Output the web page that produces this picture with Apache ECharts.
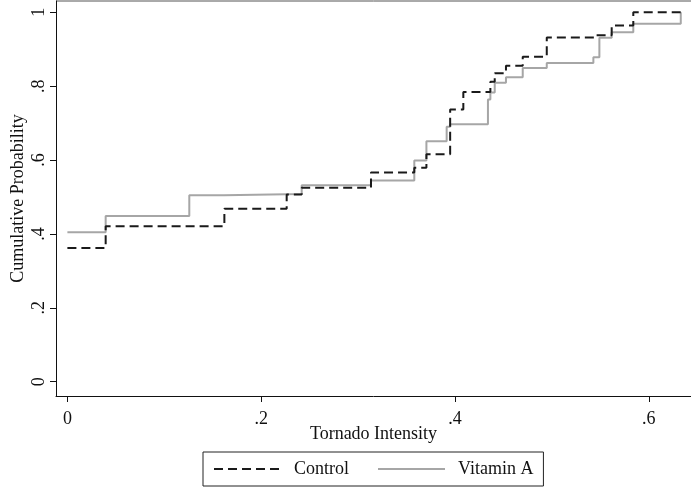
<!DOCTYPE html>
<html>
<head>
<meta charset="utf-8">
<script src="https://cdn.jsdelivr.net/npm/echarts@6/dist/echarts.min.js"></script>
<style>
html,body{margin:0;padding:0;background:#fff;}
#chart{width:691px;height:487px;}
</style>
</head>
<body>
<div id="chart"></div>
<script>
// Empirical CDF step points: [x where step occurs, cumulative probability after step]
const controlX = [0, 0.0395, 0.162, 0.2263, 0.2418, 0.3133, 0.358, 0.3705, 0.395, 0.4086, 0.4365, 0.441, 0.4526, 0.4699, 0.4947, 0.546, 0.5617, 0.584, 0.633];
const controlY = [0.362, 0.421, 0.468, 0.507, 0.525, 0.566, 0.579, 0.616, 0.737, 0.784, 0.812, 0.835, 0.855, 0.880, 0.932, 0.938, 0.964, 1.0, 1.0];
const vitaminX = [0, 0.0395, 0.1258, 0.1616, 0.2418, 0.3133, 0.358, 0.3705, 0.3914, 0.395, 0.434, 0.4365, 0.441, 0.4526, 0.4699, 0.4947, 0.5428, 0.549, 0.5617, 0.584, 0.633];
const vitaminY = [0.4045, 0.4486, 0.505, 0.508, 0.532, 0.545, 0.599, 0.651, 0.690, 0.697, 0.764, 0.783, 0.809, 0.824, 0.849, 0.863, 0.878, 0.931, 0.946, 0.969, 1.0];
const xTicks = [0, 0.2, 0.4, 0.6];
const yTicks = [0, 0.2, 0.4, 0.6, 0.8, 1];
const seriesNames = ['Control', 'Vitamin A'];
const xTitle = 'Tornado Intensity';
const yTitle = 'Cumulative Probability';

const fmt = v => (Math.abs(v) < 1e-9 ? '0' : (Math.abs(v - 1) < 1e-9 ? '1' : String(+v.toFixed(2)).replace(/^0\./, '.')));
const zip = (xs, ys) => xs.map((x, i) => [x, ys[i]]);
const FONT = "'Liberation Serif', 'Times New Roman', serif";

const chart = echarts.init(document.getElementById('chart'), null, {renderer: 'canvas'});
chart.setOption({
  animation: false,
  backgroundColor: '#fff',
  textStyle: {fontFamily: FONT},
  grid: {left: 56, top: 1, width: 635, height: 395, containLabel: false, outerBoundsMode: 'none'},
  xAxis: {
    type: 'value',
    min: -0.01176, max: 0.64355,
    name: xTitle, nameLocation: 'middle', nameGap: 29, nameMoveOverlap: false,
    nameTextStyle: {fontFamily: FONT, fontSize: 18, color: '#111'},
    axisLine: {show: true, onZero: false, lineStyle: {color: '#111', width: 1}},
    axisTick: {show: true, length: 6, customValues: xTicks, lineStyle: {color: '#111'}},
    axisLabel: {customValues: xTicks, formatter: fmt, fontFamily: FONT, fontSize: 18, color: '#111', margin: 14},
    splitLine: {show: false}
  },
  yAxis: {
    type: 'value',
    min: -0.0387, max: 1.0306,
    name: yTitle, nameLocation: 'middle', nameGap: 29, nameRotate: 90, nameMoveOverlap: false,
    nameTextStyle: {fontFamily: FONT, fontSize: 18, color: '#111'},
    axisLine: {show: true, onZero: false, lineStyle: {color: '#111', width: 1}},
    axisTick: {show: true, length: 6, customValues: yTicks, lineStyle: {color: '#111'}},
    axisLabel: {customValues: yTicks, formatter: fmt, rotate: 90, fontFamily: FONT, fontSize: 18, color: '#111', margin: 8},
    splitLine: {show: false}
  },
  legend: {
    left: 203, top: 452,
    orient: 'horizontal',
    itemWidth: 67, itemHeight: 14, itemGap: 28,
    padding: [8, 10, 8, 10],
    borderColor: '#222', borderWidth: 1,
    itemStyle: {opacity: 0},
    textStyle: {fontFamily: FONT, fontSize: 18, color: '#111', padding: [0, 0, 0, 8]},
    data: seriesNames
  },
  graphic: [{
    type: 'line', silent: true,
    shape: {x1: 56, y1: 1, x2: 691, y2: 1},
    style: {stroke: '#555', lineWidth: 1}
  }],
  series: [
    {
      name: seriesNames[0], type: 'line', step: 'end', symbol: 'none', showSymbol: false,
      data: zip(controlX, controlY),
      lineStyle: {color: '#1a1a1a', width: 2, type: [9, 5]},
      itemStyle: {color: '#1a1a1a'}, z: 3
    },
    {
      name: seriesNames[1], type: 'line', step: 'end', symbol: 'none', showSymbol: false,
      data: zip(vitaminX, vitaminY),
      lineStyle: {color: '#a6a6a6', width: 2, type: 'solid'},
      itemStyle: {color: '#a6a6a6'}, z: 2
    }
  ]
});
</script>
</body>
</html>
